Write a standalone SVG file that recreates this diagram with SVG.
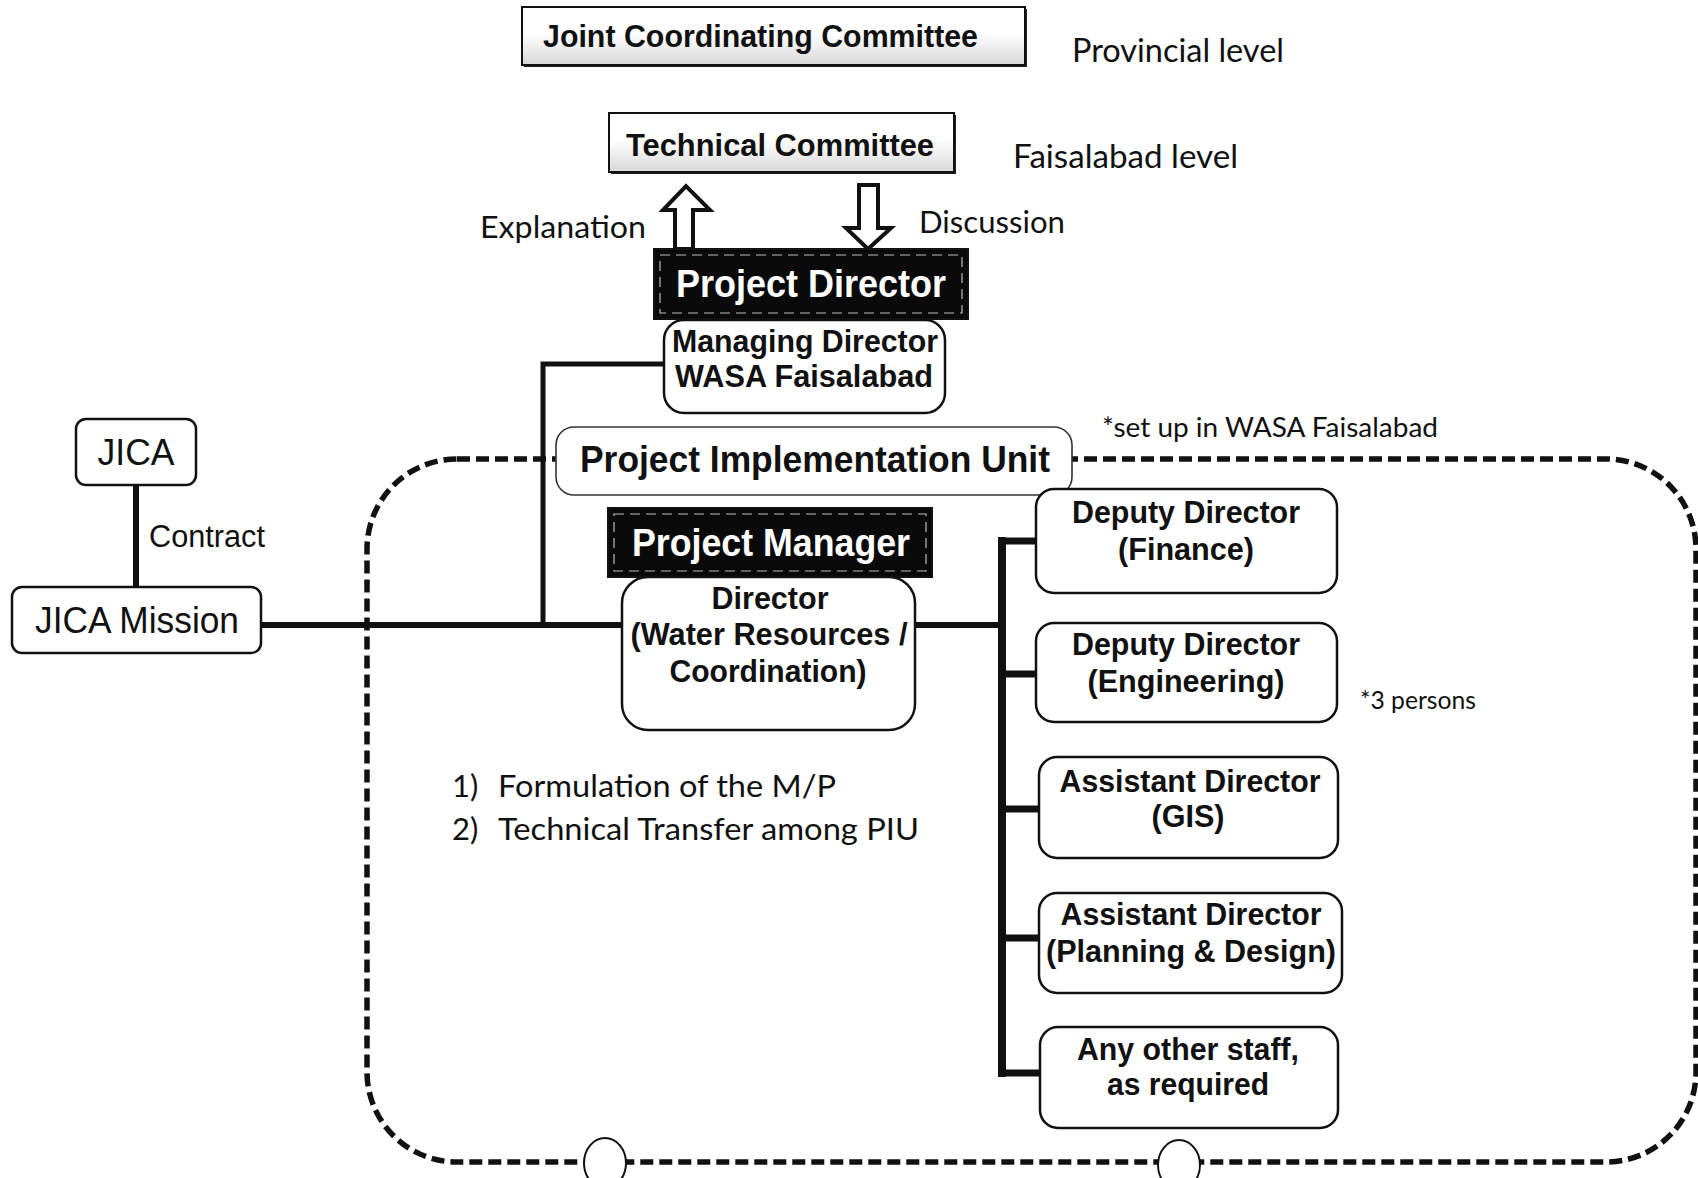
<svg xmlns="http://www.w3.org/2000/svg" width="1698" height="1178" viewBox="0 0 1698 1178">
<defs>
<style>
.b{font-family:"Liberation Sans",Arial,sans-serif;font-weight:bold;font-size:32px;text-anchor:middle;fill:#111}
.wt{font-family:"Liberation Sans",Arial,sans-serif;font-weight:bold;font-size:38px;text-anchor:middle;fill:#fff}
.r{font-family:"Liberation Sans",Arial,sans-serif;font-size:37px;fill:#111}
.c{font-family:Lato,"Open Sans",sans-serif;font-size:31px;fill:#111}
.box{fill:#fff;stroke:#111;stroke-width:2.5}
.blk{fill:#0a0a0a;stroke:#111;stroke-width:2}
.inner{fill:none;stroke:#bbb;stroke-width:1.2;stroke-dasharray:10 6}
.ln{stroke:#111;fill:none;stroke-linecap:butt}
.arr{fill:#fff;stroke:#111;stroke-width:4;stroke-linejoin:miter}
</style>
<linearGradient id="spk" x1="0" y1="0" x2="0" y2="1">
<stop offset="0.45" stop-color="#fff"/>
<stop offset="1" stop-color="#d8d8d8"/>
</linearGradient>
</defs>
<rect width="1698" height="1178" fill="#fff"/>

<!-- PIU dashed boundary -->
<g id="piu-boundary">
<rect x="367" y="459" width="1329" height="703" rx="90" ry="90" fill="none" stroke="#111" stroke-width="5.5" stroke-dasharray="13 6"/>
<ellipse cx="605" cy="1163" rx="21" ry="25" fill="#fff" stroke="#111" stroke-width="2"/>
<ellipse cx="1179" cy="1165" rx="21" ry="25" fill="#fff" stroke="#111" stroke-width="2"/>
</g>

<!-- connectors -->
<g id="connectors">
<line class="ln" x1="136" y1="485" x2="136" y2="588" stroke-width="6"/>
<line class="ln" x1="261" y1="625" x2="623" y2="625" stroke-width="6"/>
<polyline class="ln" points="664,364 543,364 543,625" stroke-width="5"/>
<line class="ln" x1="915" y1="625" x2="1002" y2="625" stroke-width="6"/>
<line class="ln" x1="1002" y1="537" x2="1002" y2="1077" stroke-width="8"/>
<line class="ln" x1="998" y1="541" x2="1037" y2="541" stroke-width="7"/>
<line class="ln" x1="998" y1="674" x2="1037" y2="674" stroke-width="7"/>
<line class="ln" x1="998" y1="809" x2="1040" y2="809" stroke-width="7"/>
<line class="ln" x1="998" y1="938" x2="1040" y2="938" stroke-width="7"/>
<line class="ln" x1="998" y1="1073" x2="1040" y2="1073" stroke-width="7"/>
<polygon class="arr" points="675,249 675,210 663,210 686,186 710,210 693,210 693,249"/>
<polygon class="arr" points="859,185 878,185 878,228 891,228 868,249 846,228 859,228"/>
</g>

<g id="jcc">
<rect x="524" y="9" width="503" height="58" fill="#222"/>
<rect x="522" y="7" width="503" height="58" fill="url(#spk)" stroke="#111" stroke-width="2"/>
<text class="b" x="543" y="47" style="text-anchor:start" textLength="435" lengthAdjust="spacingAndGlyphs">Joint Coordinating Committee</text>
</g>
<text class="c" x="1072" y="62" style="font-size:33px" textLength="212" lengthAdjust="spacingAndGlyphs">Provincial level</text>

<g id="technical-committee">
<rect x="611" y="115" width="345" height="59" fill="#222"/>
<rect x="609" y="113" width="345" height="59" fill="url(#spk)" stroke="#111" stroke-width="2"/>
<text class="b" x="780" y="156" textLength="308" lengthAdjust="spacingAndGlyphs">Technical Committee</text>
</g>
<text class="c" x="1013" y="168" style="font-size:33px" textLength="225" lengthAdjust="spacingAndGlyphs">Faisalabad level</text>

<text class="c" x="480" y="238" textLength="166" lengthAdjust="spacingAndGlyphs">Explanation</text>
<text class="c" x="919" y="233" textLength="146" lengthAdjust="spacingAndGlyphs">Discussion</text>

<g id="project-director">
<rect class="blk" x="654" y="249" width="314" height="70"/>
<rect class="inner" x="660" y="255" width="302" height="58"/>
<text class="wt" x="811" y="297" textLength="270" lengthAdjust="spacingAndGlyphs">Project Director</text>
</g>

<g id="managing-director">
<rect class="box" x="664" y="320" width="281" height="93" rx="20"/>
<text class="b" x="805" y="352" textLength="266" lengthAdjust="spacingAndGlyphs">Managing Director</text>
<text class="b" x="804" y="387" textLength="258" lengthAdjust="spacingAndGlyphs">WASA Faisalabad</text>
</g>

<g id="piu">
<rect x="556" y="427" width="516" height="68" rx="18" fill="#fff" stroke="#333" stroke-width="1.6"/>
<text class="b" x="815" y="472" style="font-size:37px" textLength="470" lengthAdjust="spacingAndGlyphs">Project Implementation Unit</text>
</g>
<text class="c" x="1102" y="437" style="font-size:26px" textLength="336" lengthAdjust="spacingAndGlyphs">*set up in WASA Faisalabad</text>

<g id="jica">
<rect class="box" x="76" y="419" width="120" height="66" rx="10" stroke-width="2"/>
<text class="r" x="136" y="465" text-anchor="middle" textLength="77" lengthAdjust="spacingAndGlyphs">JICA</text>
</g>
<text class="r" x="149" y="547" style="font-size:31px" textLength="116" lengthAdjust="spacingAndGlyphs">Contract</text>

<g id="jica-mission">
<rect class="box" x="12" y="587" width="249" height="66" rx="10" stroke-width="2"/>
<text class="r" x="137" y="633" text-anchor="middle" textLength="204" lengthAdjust="spacingAndGlyphs">JICA Mission</text>
</g>

<g id="project-manager">
<rect class="blk" x="608" y="508" width="324" height="69"/>
<rect class="inner" x="614" y="514" width="312" height="57"/>
<text class="wt" x="771" y="556" textLength="278" lengthAdjust="spacingAndGlyphs">Project Manager</text>
</g>

<g id="director">
<rect class="box" x="622" y="577" width="293" height="153" rx="26"/>
<text class="b" x="770" y="609" textLength="117" lengthAdjust="spacingAndGlyphs">Director</text>
<text class="b" x="769" y="645" textLength="277" lengthAdjust="spacingAndGlyphs">(Water Resources /</text>
<text class="b" x="768" y="682" textLength="197" lengthAdjust="spacingAndGlyphs">Coordination)</text>
</g>

<g id="dd-finance">
<rect class="box" x="1036" y="489" width="301" height="104" rx="18"/>
<text class="b" x="1186" y="523" textLength="228" lengthAdjust="spacingAndGlyphs">Deputy Director</text>
<text class="b" x="1186" y="560" textLength="136" lengthAdjust="spacingAndGlyphs">(Finance)</text>
</g>

<g id="dd-engineering">
<rect class="box" x="1036" y="623" width="301" height="99" rx="18"/>
<text class="b" x="1186" y="655" textLength="228" lengthAdjust="spacingAndGlyphs">Deputy Director</text>
<text class="b" x="1186" y="692" textLength="197" lengthAdjust="spacingAndGlyphs">(Engineering)</text>
</g>
<text class="c" x="1360" y="709" style="font-size:25px" textLength="116" lengthAdjust="spacingAndGlyphs">*3 persons</text>

<g id="ad-gis">
<rect class="box" x="1039" y="757" width="299" height="101" rx="18"/>
<text class="b" x="1190" y="792" textLength="261" lengthAdjust="spacingAndGlyphs">Assistant Director</text>
<text class="b" x="1188" y="827" textLength="73" lengthAdjust="spacingAndGlyphs">(GIS)</text>
</g>

<g id="ad-planning">
<rect class="box" x="1039" y="893" width="303" height="100" rx="18"/>
<text class="b" x="1191" y="925" textLength="261" lengthAdjust="spacingAndGlyphs">Assistant Director</text>
<text class="b" x="1191" y="962" textLength="290" lengthAdjust="spacingAndGlyphs">(Planning &amp; Design)</text>
</g>

<g id="other-staff">
<rect class="box" x="1040" y="1027" width="298" height="101" rx="18"/>
<text class="b" x="1188" y="1060" textLength="222" lengthAdjust="spacingAndGlyphs">Any other staff,</text>
<text class="b" x="1188" y="1095" textLength="162" lengthAdjust="spacingAndGlyphs">as required</text>
</g>

<g id="tasks">
<text class="c" x="452" y="797">1)</text>
<text class="c" x="498" y="797" textLength="338" lengthAdjust="spacingAndGlyphs">Formulation of the M/P</text>
<text class="c" x="452" y="840">2)</text>
<text class="c" x="498" y="840" textLength="421" lengthAdjust="spacingAndGlyphs">Technical Transfer among PIU</text>
</g>
</svg>
